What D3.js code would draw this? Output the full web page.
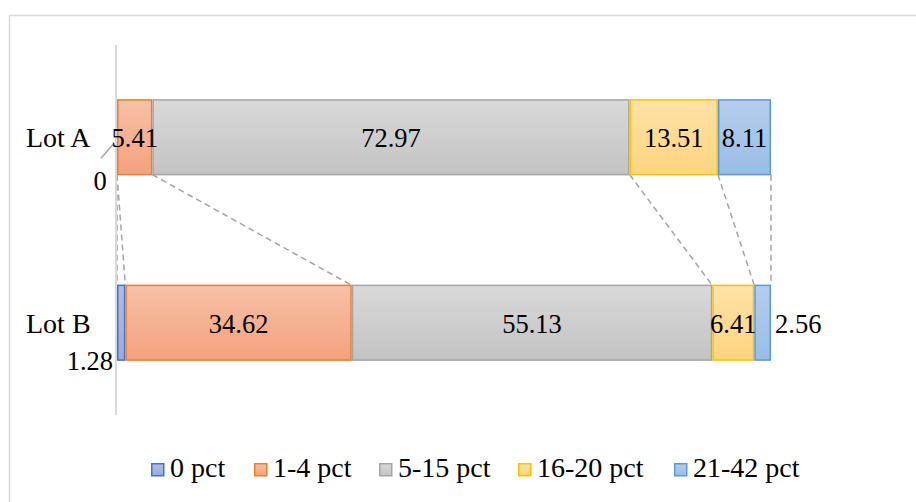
<!DOCTYPE html>
<html>
<head>
<meta charset="utf-8">
<script src="https://cdn.jsdelivr.net/npm/d3@7/dist/d3.min.js"></script>
<style>
  html, body { margin: 0; padding: 0; background: #fff; }
</style>
</head>
<body>
<svg id="chart" width="916" height="502"></svg>
<script>
// Share of lots by percentage class
const lots = ["Lot A", "Lot B"];
const seriesNames = ["0 pct", "1-4 pct", "5-15 pct", "16-20 pct", "21-42 pct"];
const lotA = [0, 5.41, 72.97, 13.51, 8.11];
const lotB = [1.28, 34.62, 55.13, 6.41, 2.56];
const xTicks = [0, 100];

const strokeColors = ["#4472c4", "#ed7d31", "#a5a5a5", "#ffc000", "#5b9bd5"];
const gradTop = ["#aebde4", "#f7c1a8", "#d9d9d9", "#ffe2a6", "#b7cdec"];
const gradBottom = ["#98ace0", "#f4a17c", "#c3c3c3", "#ffd47f", "#98bde6"];

const FONT = "'Liberation Serif', 'Times New Roman', 'DejaVu Serif', serif";

const rows = [lotA, lotB];
const table = lots.map((lot, i) => {
  const o = { lot };
  seriesNames.forEach((s, j) => { o[s] = rows[i][j]; });
  return o;
});

const svg = d3.select("#chart")
  .attr("font-family", FONT);
const W = 916, H = 502;

// chart frame
svg.append("rect")
  .attr("x", 9.5).attr("y", 15.5)
  .attr("width", W + 20).attr("height", H + 20)
  .attr("fill", "#fff").attr("stroke", "#d9d9d9").attr("stroke-width", 1.5);

const x = d3.scaleLinear().domain([xTicks[0], xTicks[1]]).range([117, 771]);
const y = d3.scaleBand().domain(lots).range([45, 415])
  .paddingInner(0.597).paddingOuter(0.296);

const defs = svg.append("defs");
seriesNames.forEach((s, j) => {
  const g = defs.append("linearGradient")
    .attr("id", "grad" + j).attr("x1", 0).attr("y1", 0).attr("x2", 0).attr("y2", 1);
  g.append("stop").attr("offset", "0%").attr("stop-color", gradTop[j]);
  g.append("stop").attr("offset", "100%").attr("stop-color", gradBottom[j]);
});

const stack = d3.stack().keys(seriesNames);
const stacked = stack(table);

// series connector lines between the two bars
const gLines = svg.append("g");
for (let j = 0; j < seriesNames.length; j++) {
  const a = stacked[j][0], b = stacked[j][1];
  [[a[0], b[0]], [a[1], b[1]]].forEach(([va, vb], k) => {
    if (j > 0 && k === 0) return;
    gLines.append("line")
      .attr("x1", x(va)).attr("y1", y("Lot A") + y.bandwidth())
      .attr("x2", x(vb)).attr("y2", y("Lot B"))
      .attr("stroke", "#a5a5a5").attr("stroke-width", 1.5)
      .attr("stroke-dasharray", "6,4");
  });
}

// bars
stacked.forEach((layer, j) => {
  svg.append("g").selectAll("rect")
    .data(layer.filter(d => d[1] - d[0] > 0))
    .join("rect")
    .attr("x", d => x(d[0]) + 0.75)
    .attr("y", d => y(d.data.lot))
    .attr("width", d => Math.max(0, x(d[1]) - x(d[0]) - 1.5))
    .attr("height", y.bandwidth())
    .attr("fill", `url(#grad${j})`)
    .attr("stroke", strokeColors[j])
    .attr("stroke-width", 1.5);
});

// category axis line
svg.append("line")
  .attr("x1", x(0) - 1).attr("x2", x(0) - 1)
  .attr("y1", 45).attr("y2", 415)
  .attr("stroke", "#d9d9d9").attr("stroke-width", 2);

// category labels
svg.append("g").selectAll("text")
  .data(lots).join("text")
  .attr("x", 26)
  .attr("y", d => y(d) + y.bandwidth() / 2 + 10)
  .attr("font-size", 28)
  .text(d => d);

// data labels
const fmt = v => v === 0 ? "0" : d3.format(".2f")(v);
stacked.forEach((layer, j) => {
  layer.forEach((d, i) => {
    const v = d[1] - d[0];
    const cy = y(d.data.lot) + y.bandwidth() / 2;
    let tx = x((d[0] + d[1]) / 2), ty = cy + 10, anchor = "middle";
    if (i === 0 && j === 0) {
      // zero-width segment: label placed below-left with a leader line
      tx = x(d[0]) - 17; ty = y(d.data.lot) + y.bandwidth() + 15;
      svg.append("line")
        .attr("x1", tx + 1).attr("y1", cy + 21)
        .attr("x2", tx + 14).attr("y2", cy + 6)
        .attr("stroke", "#a5a5a5").attr("stroke-width", 1.5);
    } else if (i === 1 && j === 0) {
      tx = x(d[0]) - 4; ty = y(d.data.lot) + y.bandwidth() + 10; anchor = "end";
    } else if (i === 1 && j === seriesNames.length - 1) {
      tx = x(d[1]) + 4; anchor = "start";
    }
    svg.append("text")
      .attr("x", tx).attr("y", ty)
      .attr("text-anchor", anchor)
      .attr("font-size", 26.5)
      .text(fmt(v));
  });
});

// legend
const legendX = [151, 254, 379, 518, 674];
const legend = svg.append("g").selectAll("g")
  .data(seriesNames).join("g")
  .attr("transform", (d, j) => `translate(${legendX[j]},463)`);
legend.append("rect")
  .attr("x", 0.75).attr("y", 0.75).attr("width", 12).attr("height", 12)
  .attr("fill", (d, j) => `url(#grad${j})`)
  .attr("stroke", (d, j) => strokeColors[j]).attr("stroke-width", 1.5);
legend.append("text")
  .attr("x", 19).attr("y", 14)
  .attr("font-size", 28)
  .text(d => d);
</script>
</body>
</html>
